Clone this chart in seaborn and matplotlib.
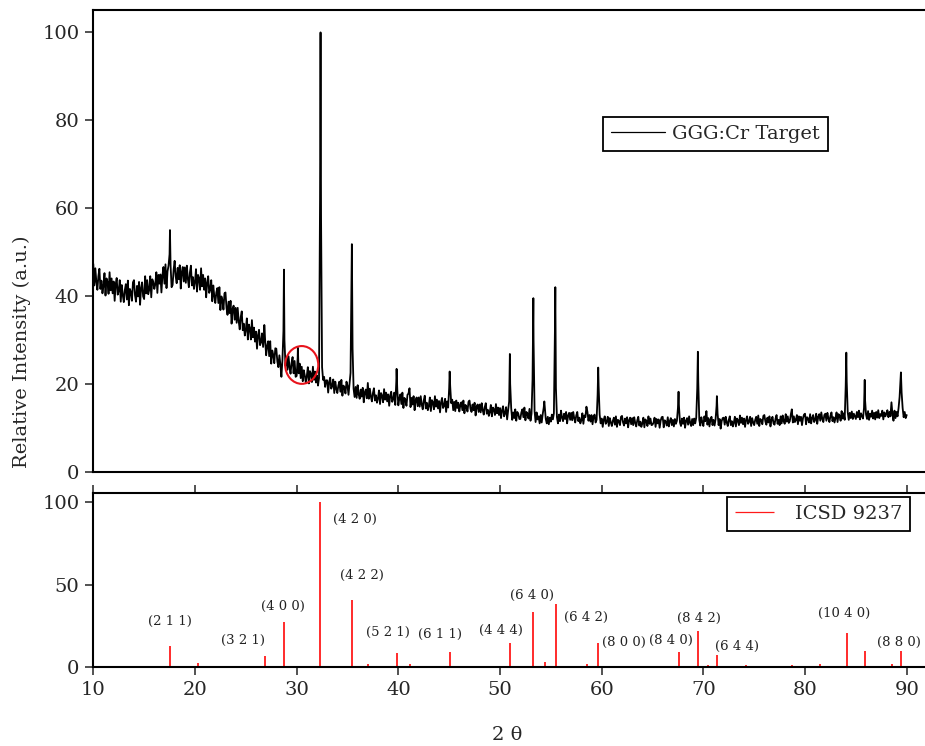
import numpy as np
import pandas as pd
import matplotlib
matplotlib.use("Agg")
import matplotlib.pyplot as plt
import seaborn as sns
from matplotlib.patches import Ellipse

# ---------------- data ----------------
scan_start = 10.0
scan_step = 0.1
scan_intensity = [
    47.3, 42.4, 46.3, 43.2, 41.4, 44.5, 46.2, 41.6, 43.5, 40.6,   # 10
    42.3, 45.2, 40.1, 44.0, 43.1, 40.5, 45.4, 41.3, 44.0, 40.6,   # 11
    43.3, 38.9, 42.6, 44.1, 40.3, 41.2, 43.6, 38.7, 42.5, 40.2,   # 12
    38.6, 41.3, 42.7, 39.2, 43.5, 37.9, 41.6, 40.9, 38.9, 43.1,   # 13
    43.6, 40.2, 38.7, 42.3, 39.9, 43.2, 38.0, 41.8, 43.1, 39.9,   # 14
    39.3, 44.5, 40.6, 43.6, 40.4, 41.4, 44.5, 39.7, 43.8, 43.2,   # 15
    41.6, 42.7, 45.4, 40.7, 44.8, 42.8, 44.9, 40.8, 44.7, 46.6,   # 16
    42.8, 47.2, 41.8, 45.6, 46.9, 49.5, 47.0, 42.0, 42.5, 46.0,   # 17
    48.0, 44.5, 42.9, 46.4, 43.8, 47.0, 41.7, 45.4, 46.6, 43.3,   # 18
    46.5, 43.0, 46.9, 43.9, 42.0, 45.3, 46.9, 42.4, 44.3, 41.6,   # 19
    43.2, 46.1, 41.0, 44.8, 44.0, 41.4, 46.3, 42.2, 44.8, 41.4,   # 20
    44.0, 39.7, 43.0, 44.5, 40.7, 41.5, 43.6, 38.8, 42.4, 40.0,   # 21
    38.4, 40.8, 41.8, 38.4, 42.0, 36.8, 39.9, 39.0, 36.9, 40.6,   # 22
    40.8, 37.3, 35.7, 38.7, 36.1, 38.9, 33.7, 37.0, 37.8, 34.6,   # 23
    37.3, 33.9, 37.3, 34.3, 32.4, 35.2, 36.5, 32.2, 33.7, 31.0,   # 24
    32.3, 34.9, 30.1, 33.5, 32.6, 30.1, 34.5, 30.6, 32.8, 29.6,   # 25
    31.9, 28.0, 31.1, 32.3, 28.8, 29.5, 31.5, 28.4, 31.5, 30.0,   # 26
    26.5, 28.6, 29.7, 26.3, 29.7, 24.6, 27.6, 26.6, 24.7, 28.1,   # 27
    28.0, 25.1, 23.8, 26.5, 24.4, 21.6, 25.4, 32.0, 30.0, 24.1,   # 28
    26.1, 23.2, 26.3, 23.8, 22.3, 24.8, 26.1, 22.4, 25.2, 21.6,   # 29
    21.8, 26.0, 22.4, 24.6, 21.3, 23.9, 20.6, 23.1, 21.9, 20.3,   # 30
    21.8, 23.8, 20.1, 22.9, 22.3, 20.4, 23.9, 20.9, 22.8, 20.3,   # 31
    21.9, 19.6, 21.3, 62.0, 58.0, 23.8, 20.9, 21.6, 19.3, 20.8,   # 32
    20.8, 18.0, 20.4, 21.4, 18.9, 19.5, 21.0, 17.9, 20.5, 18.9,   # 33
    17.9, 19.6, 20.5, 18.2, 20.9, 17.3, 19.6, 19.2, 17.8, 20.5,   # 34
    19.6, 17.5, 20.1, 22.5, 45.0, 28.0, 18.9, 17.0, 19.3, 16.8,   # 35
    19.7, 17.6, 16.6, 18.7, 17.1, 19.1, 15.8, 18.1, 18.7, 16.7,   # 36
    20.2, 16.6, 18.9, 17.1, 16.0, 17.9, 19.0, 16.2, 17.4, 15.7,   # 37
    16.7, 18.5, 15.4, 17.9, 17.3, 15.8, 18.8, 16.4, 18.0, 16.0,   # 38
    17.6, 15.0, 17.3, 18.2, 15.9, 16.5, 18.0, 15.2, 20.5, 18.6,   # 39
    15.1, 16.7, 17.6, 15.4, 18.0, 14.5, 16.8, 16.3, 15.0, 17.5,   # 40
    17.8, 19.0, 14.7, 16.8, 15.3, 17.2, 14.0, 16.3, 16.9, 14.9,   # 41
    16.9, 14.8, 17.2, 15.3, 14.2, 16.2, 17.3, 14.4, 15.7, 14.0,   # 42
    15.0, 16.9, 13.8, 16.3, 15.8, 14.2, 17.2, 14.8, 16.4, 14.4,   # 43
    16.1, 13.5, 15.8, 16.8, 14.5, 15.0, 16.6, 13.6, 16.0, 14.6,   # 44
    19.0, 19.5, 15.6, 16.4, 14.0, 15.9, 13.8, 16.2, 14.5, 15.7,   # 45
    13.7, 15.2, 15.8, 14.0, 16.2, 13.3, 15.2, 14.8, 13.7, 15.9,   # 46
    16.2, 14.3, 13.6, 15.3, 14.0, 15.7, 12.8, 14.8, 15.3, 13.6,   # 47
    15.3, 13.5, 15.6, 14.0, 13.0, 14.7, 15.6, 13.2, 14.1, 12.7,   # 48
    13.6, 15.2, 12.6, 14.6, 14.2, 12.9, 15.4, 13.3, 14.6, 12.9,   # 49
    14.5, 12.2, 14.0, 14.9, 12.6, 13.3, 14.7, 11.9, 13.9, 16.0,   # 50
    20.0, 14.5, 11.8, 13.5, 12.2, 14.2, 11.6, 13.6, 13.2, 12.0,   # 51
    12.0, 13.5, 14.2, 12.4, 14.6, 11.7, 13.6, 13.2, 12.1, 14.3,   # 52
    11.6, 13.2, 21.0, 30.0, 13.8, 11.3, 13.5, 11.9, 12.6, 11.0,   # 53
    12.9, 11.2, 13.1, 14.6, 14.9, 12.0, 11.0, 12.5, 10.8, 12.3,   # 54
    11.4, 13.0, 11.9, 13.3, 32.0, 19.0, 12.4, 11.0, 13.0, 11.5,   # 55
    13.9, 12.3, 11.5, 13.2, 12.0, 13.6, 11.0, 12.8, 13.4, 11.8,   # 56
    13.4, 11.7, 13.6, 12.2, 11.2, 12.8, 13.6, 11.5, 12.3, 11.0,   # 57
    11.7, 13.3, 10.9, 12.8, 12.4, 14.8, 13.6, 11.6, 12.9, 11.4,   # 58
    12.9, 10.8, 12.5, 13.0, 11.2, 11.8, 17.5, 19.5, 13.0, 11.0,   # 59
    12.1, 10.2, 11.8, 12.6, 10.9, 11.4, 12.5, 10.4, 12.2, 11.2,   # 60
    10.4, 11.6, 12.3, 10.7, 12.6, 10.2, 11.8, 11.5, 10.6, 12.5,   # 61
    12.7, 11.2, 10.5, 12.1, 11.0, 12.4, 10.1, 11.7, 12.3, 10.8,   # 62
    12.2, 10.6, 12.4, 11.1, 10.3, 11.7, 12.5, 10.5, 11.4, 10.2,   # 63
    11.0, 12.3, 10.1, 11.9, 11.5, 10.4, 12.6, 10.9, 12.1, 10.6,   # 64
    10.7, 11.2, 12.3, 10.2, 12.0, 11.0, 11.9, 10.0, 11.6, 12.4,   # 65
    12.5, 10.1, 11.7, 11.4, 10.5, 12.4, 10.3, 11.5, 12.2, 10.6,   # 66
    11.8, 10.3, 12.0, 10.9, 11.6, 14.5, 15.0, 11.2, 10.4, 12.1,   # 67
    10.9, 12.3, 10.0, 11.6, 12.2, 10.7, 12.6, 11.1, 10.4, 12.0,   # 68
    10.6, 12.1, 11.0, 12.3, 19.0, 20.5, 11.8, 10.5, 12.4, 11.3,   # 69
    10.4, 12.6, 11.5, 13.8, 10.7, 12.2, 10.3, 11.9, 12.5, 10.6,   # 70
    11.8, 10.5, 11.9, 15.0, 13.2, 10.6, 12.0, 9.8, 11.5, 12.2,    # 71
    12.3, 10.7, 12.5, 11.2, 10.4, 11.8, 12.6, 10.6, 11.5, 10.3,   # 72
    11.2, 12.5, 10.3, 12.1, 11.7, 10.6, 12.8, 11.1, 12.3, 10.8,   # 73
    12.1, 10.2, 11.8, 12.6, 10.9, 11.4, 12.5, 10.4, 12.2, 11.2,   # 74
    10.6, 11.8, 12.5, 10.9, 12.8, 10.4, 12.0, 11.7, 10.8, 12.7,   # 75
    12.9, 11.4, 10.7, 12.3, 11.2, 12.6, 10.3, 11.9, 12.5, 11.0,   # 76
    10.7, 12.1, 12.9, 10.9, 11.8, 10.6, 12.6, 11.0, 12.8, 11.5,   # 77
    10.9, 13.1, 11.4, 12.6, 11.1, 11.5, 13.0, 14.2, 11.2, 12.6,   # 78
    11.3, 11.8, 12.9, 10.8, 12.6, 11.6, 12.5, 10.6, 12.2, 13.0,   # 79
    13.2, 10.8, 12.4, 12.1, 11.2, 13.1, 11.0, 12.2, 12.9, 11.3,   # 80
    11.8, 13.2, 10.9, 12.5, 13.1, 11.6, 13.5, 12.0, 11.3, 12.9,   # 81
    13.2, 11.6, 13.4, 12.1, 11.3, 12.7, 13.5, 11.5, 12.4, 11.2,   # 82
    12.2, 13.5, 11.3, 13.1, 12.7, 11.6, 13.8, 12.1, 13.3, 11.8,   # 83
    19.5, 20.5, 13.5, 11.8, 13.4, 12.2, 13.7, 12.0, 13.2, 12.6,   # 84
    12.0, 13.6, 12.4, 13.9, 11.9, 13.3, 12.6, 12.1, 14.5, 16.5,   # 85
    13.0, 12.0, 13.8, 11.8, 13.2, 12.5, 13.9, 12.1, 13.4, 11.9,   # 86
    13.6, 12.3, 14.0, 12.2, 13.1, 12.7, 13.9, 11.9, 13.5, 12.6,   # 87
    13.2, 14.0, 12.4, 13.6, 12.6, 15.8, 13.0, 11.6, 13.9, 12.2,   # 88
    13.6, 12.6, 14.5, 17.0, 21.0, 18.0, 14.5, 12.4, 13.6, 12.2,   # 89
    12.9,                                                         # 90
]
peak_two_theta = [17.54, 26.82, 28.75, 30.12, 32.35, 35.43, 39.83, 45.05, 50.97,
                  53.28, 54.36, 55.44, 59.66, 67.56, 69.46, 71.33, 84.06, 85.87, 89.43]
peak_intensity = [55.0, 33.4, 46.0, 28.2, 100.0, 51.8, 23.4, 22.8, 26.8,
                  39.5, 16.0, 42.0, 23.7, 18.2, 27.3, 17.2, 27.1, 20.9, 22.6]

ref_two_theta = [17.51, 20.27, 26.91, 28.78, 32.29, 33.93, 35.47, 36.98, 39.83, 41.17,
                 45.07, 49.92, 51.00, 53.26, 54.38, 55.46, 58.60, 59.66, 62.70, 63.70,
                 66.60, 67.59, 69.49, 70.44, 71.39, 74.18, 75.95, 77.79, 78.73, 81.45,
                 84.11, 85.03, 85.91, 88.57, 89.45]
ref_intensity = [13.1, 2.8, 7.0, 27.4, 100.0, 1.0, 40.7, 2.0, 8.8, 2.2,
                 9.3, 1.0, 14.9, 33.5, 3.4, 38.1, 1.8, 14.9, 0.5, 0.5,
                 0.4, 9.5, 21.7, 1.6, 7.6, 1.4, 0.4, 0.4, 1.6, 2.0,
                 20.5, 1.0, 9.9, 1.8, 9.9]

hkl_labels = ["(2 1 1)", "(3 2 1)", "(4 0 0)", "(4 2 0)", "(4 2 2)", "(5 2 1)", "(6 1 1)",
              "(4 4 4)", "(6 4 0)", "(6 4 2)", "(8 0 0)", "(8 4 0)", "(8 4 2)", "(6 4 4)",
              "(10 4 0)", "(8 8 0)"]
hkl_x = [17.56, 24.69, 28.68, 35.73, 36.39, 38.95, 44.12,
         50.09, 53.10, 58.44, 62.21, 66.80, 69.53, 73.32, 83.82, 89.25]
hkl_y = [27.6, 16.1, 37.1, 89.3, 55.4, 21.2, 20.0,
         22.6, 43.7, 30.2, 15.3, 16.3, 29.4, 12.9, 32.4, 14.9]

# ---------------- assemble tables ----------------
scan = pd.DataFrame({
    "two_theta": np.round(scan_start + scan_step * np.arange(len(scan_intensity)), 3),
    "intensity": scan_intensity,
})
peaks = pd.DataFrame({"two_theta": peak_two_theta, "intensity": peak_intensity})
pattern = pd.concat([scan, peaks], ignore_index=True).sort_values(
    "two_theta", kind="mergesort").reset_index(drop=True)
pattern["series"] = "GGG:Cr Target"

# ---------------- style ----------------
sns.set_theme(style="ticks")
plt.rcParams["font.family"] = ["DejaVu Serif"]
plt.rcParams["axes.linewidth"] = 1.5
plt.rcParams["axes.edgecolor"] = "black"

W, H = 925, 746
fig = plt.figure(figsize=(W / 100, H / 100), dpi=100)

left = 93.3 / W
right = 924.5 / W
ax1 = fig.add_axes([left, 1 - 471.7 / H, right - left, (471.7 - 10) / H])
ax2 = fig.add_axes([left, 1 - 667.3 / H, right - left, (667.3 - 493.3) / H])

# top panel
sns.lineplot(data=pattern, x="two_theta", y="intensity", hue="series",
             palette={"GGG:Cr Target": "black"}, sort=False, estimator=None,
             linewidth=1.3, ax=ax1)
ax1.add_patch(Ellipse((30.5, 24.3), width=3.25, height=8.6, fill=False,
                      edgecolor="#e8141c", linewidth=1.5, zorder=5))
ax1.set_xlim(10, 91.75)
ax1.set_ylim(0, 105.1)
ax1.set_yticks([0, 20, 40, 60, 80, 100])
ax1.set_xticks([])
ax1.set_xlabel("")
ax1.set_ylabel("")
ax1.spines["right"].set_visible(False)
ax1.tick_params(axis="y", direction="out", length=6, width=1.3, color="#444444",
                labelsize=14, pad=4)
leg1 = ax1.legend(loc="upper left", bbox_to_anchor=(603 / W, 1 - 117 / H),
                  bbox_transform=fig.transFigure, borderaxespad=0, fontsize=14,
                  handlelength=2.8, handletextpad=0.35, borderpad=0.4,
                  fancybox=False, framealpha=1, edgecolor="black")
leg1.get_frame().set_linewidth(1.3)
for ln in leg1.get_lines():
    ln.set_linewidth(0.9)

# bottom panel
ax2.vlines(ref_two_theta, 0, ref_intensity, colors="#ff1a1a", linewidth=1.3,
           label="ICSD 9237")
for lab, x, y in zip(hkl_labels, hkl_x, hkl_y):
    ax2.text(x, y, lab, ha="center", va="center", fontsize=9.5, color="#222222")
ax2.set_xlim(10, 91.75)
ax2.set_ylim(0, 105.3)
ax2.set_yticks([0, 50, 100])
ax2.set_xticks([10, 20, 30, 40, 50, 60, 70, 80, 90])
ax2.spines["right"].set_visible(False)
ax2.tick_params(axis="x", direction="out", length=6, width=1.3, color="#444444",
                labelsize=14, pad=4, top=True, bottom=True)
ax2.tick_params(axis="y", direction="out", length=6, width=1.3, color="#444444",
                labelsize=14, pad=4)
leg2 = ax2.legend(loc="upper left", bbox_to_anchor=(727 / W, 1 - 497 / H),
                  bbox_transform=fig.transFigure, borderaxespad=0, fontsize=14,
                  handlelength=2.0, handletextpad=1.1, borderpad=0.4,
                  fancybox=False, framealpha=1, edgecolor="black")
leg2.get_frame().set_linewidth(1.3)
for ln in leg2.get_lines():
    ln.set_linewidth(0.9)

fig.text(21.7 / W, 1 - 352 / H, "Relative Intensity (a.u.)", rotation=90,
         ha="center", va="center", fontsize=14)
fig.text(506.7 / W, 1 - 735 / H, "2 θ", ha="center", va="center", fontsize=14)

fig.savefig("out.png", dpi=100)
